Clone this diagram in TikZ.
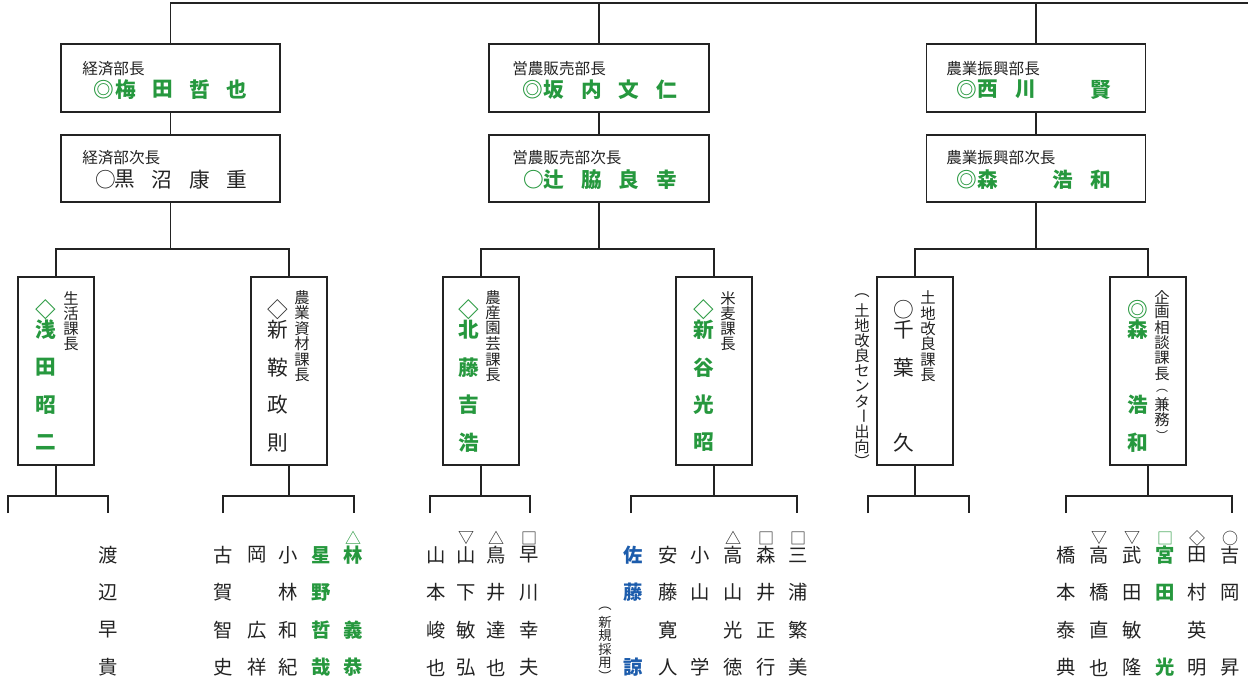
\documentclass[tikz,border=0pt]{standalone}
\usepackage{fontspec}
\setmainfont{Noto Sans CJK JP}
\definecolor{gr}{RGB}{38,152,62}
\definecolor{bl}{RGB}{28,92,172}
\definecolor{ink}{RGB}{35,35,35}
\tikzset{
 frame/.style={draw=ink,line width=1.1pt,inner sep=0pt,outer sep=0pt,fill=white},
 wire/.style={draw=ink,line width=1.1pt},
 ttl/.style={font=\fontsize{11.7pt}{12pt}\selectfont,text=ink,inner sep=0pt,anchor=west},
 vt/.style={font=\fontsize{11.5pt}{12pt}\selectfont,text=ink,inner sep=0pt},
 vp/.style={font=\fontsize{9pt}{9pt}\selectfont,text=ink,inner sep=0pt},
 vs/.style={font=\fontsize{10pt}{10pt}\selectfont,text=ink,inner sep=0pt},
 nmg/.style={font=\fontsize{15.5pt}{15.5pt}\selectfont\bfseries,text=gr,inner sep=0pt},
 nmk/.style={font=\fontsize{15.5pt}{15.5pt}\selectfont,text=ink,inner sep=0pt},
 stk/.style={font=\fontsize{14.5pt}{15pt}\selectfont,text=ink,inner sep=0pt},
 stg/.style={font=\fontsize{14.5pt}{15pt}\selectfont\bfseries,text=gr,inner sep=0pt},
 stb/.style={font=\fontsize{14.5pt}{15pt}\selectfont\bfseries,text=bl,inner sep=0pt},
 mkk/.style={font=\fontsize{12pt}{12pt}\selectfont,text=ink,inner sep=0pt},
 mkg/.style={font=\fontsize{12pt}{12pt}\selectfont,text=gr,inner sep=0pt},
}
% name, style, x0, y, pitch, list
\newcommand\hrow[6]{\foreach \c [count=\i from 0] in {#6} {\node[#2] (#1-\i) at ({#3+\i*(#5)},#4) {\c};}}
% name, style, x, y0, pitch, list
\newcommand\vcol[6]{\foreach \c [count=\i from 0] in {#6} {\node[#2] (#1-\i) at (#3,{#4+\i*(#5)}) {\c};}}
\newcommand\vbar{\rotatebox{-90}{ー}}
\begin{document}
\begin{tikzpicture}[x=0.75pt,y=-0.75pt]
\useasboundingbox (0,0) rectangle (1248,690);
\fill[white] (0,0) rectangle (1248,690);
% ---------- department boxes
\node[frame,minimum width=219*0.75pt,minimum height=68*0.75pt] (d1) at (170.5,78) {};
\node[frame,minimum width=219*0.75pt,minimum height=67*0.75pt] (d1s) at (170.5,168.5) {};
\node[frame,minimum width=220*0.75pt,minimum height=68*0.75pt] (d2) at (599,78) {};
\node[frame,minimum width=220*0.75pt,minimum height=67*0.75pt] (d2s) at (599,168.5) {};
\node[frame,minimum width=219*0.75pt,minimum height=68*0.75pt] (d3) at (1036,78) {};
\node[frame,minimum width=219*0.75pt,minimum height=67*0.75pt] (d3s) at (1036,168.5) {};
% ---------- section boxes
\foreach \n/\x in {c1/56,c2/289,c3/481,c4/714,c5/915,c6/1148}
  {\node[frame,minimum width=76*0.75pt,minimum height=188*0.75pt] (\n) at (\x,371) {};}
% ---------- connectors
\coordinate (tr) at (1248,3);
\coordinate (h) at (0,249);
\coordinate (hb) at (0,496);
\draw[wire] (d1.north) |- (tr);
\draw[wire] (d2.north) -- (d2.north |- tr);
\draw[wire] (d3.north) -- (d3.north |- tr);
\draw[wire] (d1.south) -- (d1s.north);
\draw[wire] (d2.south) -- (d2s.north);
\draw[wire] (d3.south) -- (d3s.north);
\draw[wire] (d1s.south) -- (d1s.south |- h);
\draw[wire] (d2s.south) -- (d2s.south |- h);
\draw[wire] (d3s.south) -- (d3s.south |- h);
\draw[wire] (c1.north) -- (c1.north |- h) -- (c2.north |- h) -- (c2.north);
\draw[wire] (c3.north) -- (c3.north |- h) -- (c4.north |- h) -- (c4.north);
\draw[wire] (c5.north) -- (c5.north |- h) -- (c6.north |- h) -- (c6.north);
\foreach \n/\l/\r in {c1/8/108,c2/223/354,c3/430/530,c4/631/797,c5/868/969,c6/1066/1232}{
  \coordinate (\n L) at (\l,513);
  \coordinate (\n R) at (\r,513);
  \draw[wire] (\n.south) -- (\n.south |- hb);
  \draw[wire] (\n L) -- (\n L |- hb) -- (\n R |- hb) -- (\n R);
}
% ---------- department texts
\node[ttl] (d1t) at (82,68.5) {経済部長};
\node[nmg] (d1m) at (103.5,89.5) {◎};
\hrow{d1n}{nmg}{126}{89.5}{36.8}{梅,田,哲,也}
\node[ttl] (d1st) at (82,158) {経済部次長};
\node[nmk] (d1sm) at (105.5,179.5) {○};
\hrow{d1sn}{nmk}{125}{179.5}{37.3}{黒,沼,康,重}
\node[ttl] (d2t) at (512,68.5) {営農販売部長};
\node[nmg] (d2m) at (533,89.5) {◎};
\hrow{d2n}{nmg}{554}{89.5}{37.5}{坂,内,文,仁}
\node[ttl] (d2st) at (512,158) {営農販売部次長};
\node[nmg] (d2sm) at (534,179.5) {○};
\hrow{d2sn}{nmg}{554}{179.5}{37.5}{辻,脇,良,幸}
\node[ttl] (d3t) at (946,68.5) {農業振興部長};
\node[nmg] (d3m) at (967,89.5) {◎};
\hrow{d3n}{nmg}{988}{89.5}{37.5}{西,川,{},賢}
\node[ttl] (d3st) at (946,158) {農業振興部次長};
\node[nmg] (d3sm) at (967,179.5) {◎};
\hrow{d3sn}{nmg}{988}{179.5}{37.5}{森,{},浩,和}
% ---------- section texts
\vcol{c1t}{vt}{71}{298.5}{15.2}{生,活,課,長}
\node[nmg] (c1m) at (46,309.5) {◇};
\vcol{c1n}{nmg}{46}{330}{37.5}{浅,田,昭,二}
\vcol{c2t}{vt}{302}{297.5}{15.5}{農,業,資,材,課,長}
\node[nmk] (c2m) at (278,309.5) {◇};
\vcol{c2n}{nmk}{278}{330}{37.5}{新,鞍,政,則}
\vcol{c3t}{vt}{493}{297.5}{15.5}{農,産,園,芸,課,長}
\node[nmg] (c3m) at (469,309.5) {◇};
\vcol{c3n}{nmg}{469}{330}{37.5}{北,藤,吉,浩}
\vcol{c4t}{vt}{728}{298.5}{15.2}{米,麦,課,長}
\node[nmg] (c4m) at (704,309.5) {◇};
\vcol{c4n}{nmg}{704}{330}{37.5}{新,谷,光,昭}
\vcol{c5t}{vt}{928}{297.5}{15.5}{土,地,改,良,課,長}
\node[nmk] (c5m) at (904,309.5) {○};
\vcol{c5n}{nmk}{904}{330}{37.5}{千,葉,{},久}
\vcol{c5x}{vt}{862}{295.4}{15.1}{︵,土,地,改,良,セ,ン,タ,\vbar,出,向,︶}
\vcol{c6t}{vt}{1162}{297}{15.3}{企,画,相,談,課,長}
\node[vp] (c6p1) at (1162,391) {︵};
\node[vt] (c6t6) at (1162,404.5) {兼};
\node[vt] (c6t7) at (1162,420) {務};
\node[vp] (c6p2) at (1162,435) {︶};
\node[nmg] (c6m) at (1138,309.5) {◎};
\vcol{c6n}{nmg}{1138}{330}{37.5}{森,{},浩,和}
% ---------- staff
\vcol{s1a}{stk}{108}{555}{37.5}{渡,辺,早,貴}
\vcol{s2a}{stk}{223}{555}{37.5}{古,賀,智,史}
\vcol{s2b}{stk}{257}{555}{37.5}{岡,{},広,祥}
\vcol{s2c}{stk}{288}{555}{37.5}{小,林,和,紀}
\vcol{s2d}{stg}{321}{555}{37.5}{星,野,哲,哉}
\vcol{s2e}{stg}{353}{555}{37.5}{林,{},義,恭}
\node[mkg] (s2em) at (353,538) {△};
\vcol{s3a}{stk}{436}{555}{37.5}{山,本,峻,也}
\vcol{s3b}{stk}{466}{555}{37.5}{山,下,敏,弘}
\node[mkk] (s3bm) at (466,538) {▽};
\vcol{s3c}{stk}{496}{555}{37.5}{鳥,井,達,也}
\node[mkk] (s3cm) at (496,538) {△};
\vcol{s3d}{stk}{529}{555}{37.5}{早,川,幸,夫}
\node[mkk] (s3dm) at (529,538) {□};
\vcol{s4x}{vs}{605}{608.5}{13.5}{︵,新,規,採,用,︶}
\vcol{s4a}{stb}{633}{555}{37.5}{佐,藤,{},諒}
\vcol{s4b}{stk}{668}{555}{37.5}{安,藤,寛,人}
\vcol{s4c}{stk}{700}{555}{37.5}{小,山,{},学}
\vcol{s4d}{stk}{733}{555}{37.5}{高,山,光,徳}
\node[mkk] (s4dm) at (733,538) {△};
\vcol{s4e}{stk}{766}{555}{37.5}{森,井,正,行}
\node[mkk] (s4em) at (766,538) {□};
\vcol{s4f}{stk}{798}{555}{37.5}{三,浦,繁,美}
\node[mkk] (s4fm) at (798,538) {□};
\vcol{s6a}{stk}{1066}{555}{37.5}{橋,本,泰,典}
\vcol{s6b}{stk}{1099}{555}{37.5}{高,橋,直,也}
\node[mkk] (s6bm) at (1099,538) {▽};
\vcol{s6c}{stk}{1132}{555}{37.5}{武,田,敏,隆}
\node[mkk] (s6cm) at (1132,538) {▽};
\vcol{s6d}{stg}{1165}{555}{37.5}{宮,田,{},光}
\node[mkg] (s6dm) at (1165,538) {□};
\vcol{s6e}{stk}{1197}{555}{37.5}{田,村,英,明}
\node[mkk] (s6em) at (1197,538) {◇};
\vcol{s6f}{stk}{1230}{555}{37.5}{吉,岡,{},昇}
\node[mkk] (s6fm) at (1230,538) {○};
\end{tikzpicture}
\end{document}
